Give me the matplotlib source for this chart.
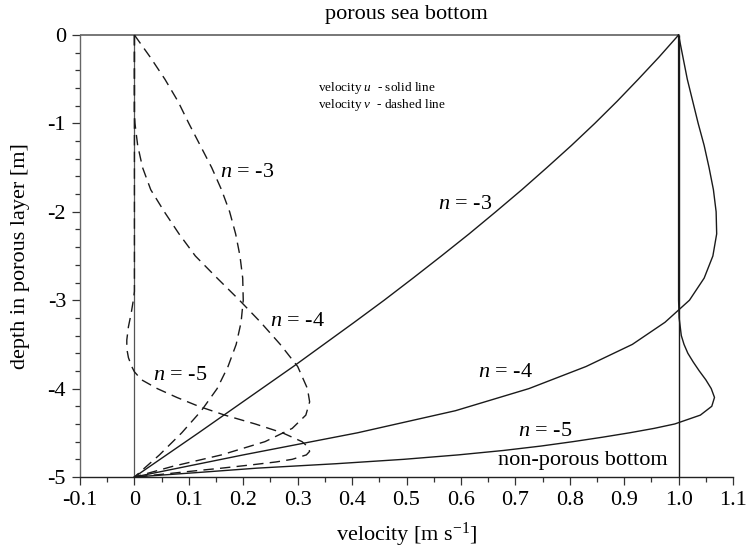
import matplotlib
matplotlib.use("Agg")
import matplotlib.pyplot as plt
from matplotlib.ticker import MultipleLocator, FixedLocator

plt.rcParams['font.family'] = ['Liberation Serif', 'DejaVu Serif']
plt.rcParams['mathtext.fontset'] = 'custom'
plt.rcParams['mathtext.rm'] = 'Liberation Serif'
plt.rcParams['mathtext.it'] = 'Liberation Serif:italic'

# ---- data (x = velocity, z = depth) ----
# solid lines: velocity u
u_n3_z = [-5, -4.75, -4.5, -4.25, -4, -3.75, -3.5, -3.25, -3, -2.75, -2.5,
          -2.25, -2, -1.75, -1.5, -1.25, -1, -0.75, -0.5, -0.25, 0]
u_n3_x = [0, 0.059, 0.118, 0.176, 0.234, 0.292, 0.348, 0.404, 0.459, 0.512, 0.564,
          0.615, 0.664, 0.712, 0.758, 0.803, 0.846, 0.887, 0.926, 0.964, 1.0]

u_n4_z = [-5, -4.75, -4.5, -4.25, -4, -3.75, -3.5, -3.25, -3, -2.75, -2.5,
          -2.25, -2, -1.75, -1.5, -1.25, -1, -0.75, -0.5, -0.25, 0]
u_n4_x = [0, 0.2, 0.41, 0.59, 0.725, 0.83, 0.915, 0.975, 1.02, 1.047, 1.063,
          1.07, 1.069, 1.064, 1.056, 1.047, 1.036, 1.026, 1.016, 1.008, 1.0]

u_n5_z = [-5, -4.95, -4.9, -4.85, -4.8, -4.75, -4.7, -4.65, -4.6, -4.55, -4.5, -4.45,
          -4.4, -4.3, -4.2, -4.1, -4.0, -3.9, -3.8, -3.7, -3.6, -3.5, -3.4, -3.2, -3.0, 0]
u_n5_x = [0, 0.115, 0.225, 0.37, 0.495, 0.595, 0.678, 0.747, 0.806, 0.86, 0.91, 0.955,
          0.993, 1.04, 1.061, 1.066, 1.06, 1.05, 1.038, 1.027, 1.017, 1.01, 1.005, 1.001, 1.0, 1.0]

# dashed lines: velocity v
v_n3_z = [0, -0.25, -0.5, -0.75, -1, -1.25, -1.5, -1.75, -2, -2.25, -2.5,
          -2.75, -3, -3.25, -3.5, -3.75, -4, -4.25, -4.5, -4.75, -5]
v_n3_x = [0, 0.029, 0.056, 0.08, 0.1, 0.121, 0.142, 0.16, 0.175, 0.186, 0.194,
          0.199, 0.2, 0.196, 0.187, 0.172, 0.152, 0.123, 0.087, 0.046, 0]

v_n4_z = [0, -0.9, -1.0, -1.25, -1.5, -1.75, -2.0, -2.25, -2.5, -2.75, -3.0, -3.25,
          -3.5, -3.75, -4.0, -4.15, -4.3, -4.45, -4.6, -4.75, -4.88, -5]
v_n4_x = [0, 0, 0.001, 0.006, 0.015, 0.03, 0.055, 0.082, 0.112, 0.152, 0.193, 0.232,
          0.268, 0.3, 0.318, 0.322, 0.315, 0.29, 0.24, 0.16, 0.07, 0]

v_n5_z = [0, -2.9, -3.0, -3.15, -3.3, -3.45, -3.55, -3.65, -3.75, -3.81, -3.9, -4.0,
          -4.1, -4.2, -4.3, -4.4, -4.5, -4.6, -4.66, -4.71, -4.75, -4.8, -4.83,
          -4.86, -4.9, -4.94, -4.97, -5]
v_n5_x = [0, 0, -0.002, -0.006, -0.011, -0.014, -0.014, -0.011, -0.005, 0, 0.013, 0.042,
          0.078, 0.118, 0.166, 0.222, 0.272, 0.308, 0.319, 0.322, 0.316, 0.29, 0.26,
          0.219, 0.16, 0.096, 0.05, 0]

x_ticks = [-0.1, 0, 0.1, 0.2, 0.3, 0.4, 0.5, 0.6, 0.7, 0.8, 0.9, 1.0, 1.1]
x_tick_labels = ['-0.1', '0', '0.1', '0.2', '0.3', '0.4', '0.5', '0.6', '0.7', '0.8', '0.9', '1.0', '1.1']
y_ticks = [-5, -4, -3, -2, -1, 0]
y_tick_labels = ['-5', '-4', '-3', '-2', '-1', '0']

# ---- figure ----
fig = plt.figure(figsize=(7.46, 5.49), dpi=100)
ax = fig.add_axes([80/746, 1-477/549, 653/746, 442/549])

ax.set_xlim(-0.1, 1.1)
ax.set_ylim(-5, 0)

lw = 1.0
dash = (0, (7.5, 4.5))
for xs, zs in [(u_n3_x, u_n3_z), (u_n4_x, u_n4_z), (u_n5_x, u_n5_z)]:
    ax.plot(xs, zs, color='#1a1a1a', lw=lw, clip_on=False, zorder=3,
            solid_joinstyle='round')
for xs, zs in [(v_n3_x, v_n3_z), (v_n4_x, v_n4_z), (v_n5_x, v_n5_z)]:
    ax.plot(xs, zs, color='#1a1a1a', lw=lw, linestyle=dash, clip_on=False, zorder=3,
            dash_joinstyle='round')

# reference lines
ax.vlines([0], -5, 0, color='#555555', lw=0.9, zorder=2)
ax.vlines([1.0], -5, 0, color='#1a1a1a', lw=1.0, zorder=2)
ax.hlines(0, -0.1, 1.0, color='#777777', lw=1.4, clip_on=False, zorder=2)

for s in ['top', 'right']:
    ax.spines[s].set_visible(False)
ax.spines['left'].set_color('#666666')
ax.spines['bottom'].set_color('#222222')
ax.spines['left'].set_linewidth(1.0)
ax.spines['bottom'].set_linewidth(1.0)

ax.xaxis.set_major_locator(FixedLocator(x_ticks))
ax.set_xticklabels(x_tick_labels)
ax.xaxis.set_minor_locator(MultipleLocator(0.05))
ax.yaxis.set_major_locator(FixedLocator(y_ticks))
ax.set_yticklabels(y_tick_labels)
ax.yaxis.set_minor_locator(MultipleLocator(0.2))
ax.tick_params(which='major', direction='out', length=6, width=0.9, color='#333333', labelsize=16, pad=4)
ax.tick_params(which='minor', direction='out', length=3.5, width=0.9, color='#333333')

ax.set_xlabel('velocity [m s$^{\\mathregular{-1}}$]', fontsize=16, labelpad=8)
ax.set_ylabel('depth in porous layer [m]', fontsize=16, labelpad=13)

fig.text(406/746, 1-15/549, 'porous sea bottom', fontsize=16, ha='center', va='center')

ax.text(0.338, -0.6, 'velocity $u$  - solid line', fontsize=9.5, ha='left', va='center')
ax.text(0.338, -0.79, 'velocity $v$  - dashed line', fontsize=9.5, ha='left', va='center')

fs = 16
ax.text(0.158, -1.56, '$n$ = -3', fontsize=fs, ha='left', va='center')
ax.text(0.249, -3.24, '$n$ = -4', fontsize=fs, ha='left', va='center')
ax.text(0.035, -3.85, '$n$ = -5', fontsize=fs, ha='left', va='center')
ax.text(0.557, -1.92, '$n$ = -3', fontsize=fs, ha='left', va='center')
ax.text(0.632, -3.82, '$n$ = -4', fontsize=fs, ha='left', va='center')
ax.text(0.704, -4.48, '$n$ = -5', fontsize=fs, ha='left', va='center')
ax.text(0.668, -4.81, 'non-porous bottom', fontsize=fs, ha='left', va='center')

fig.savefig('out.png', dpi=100)
